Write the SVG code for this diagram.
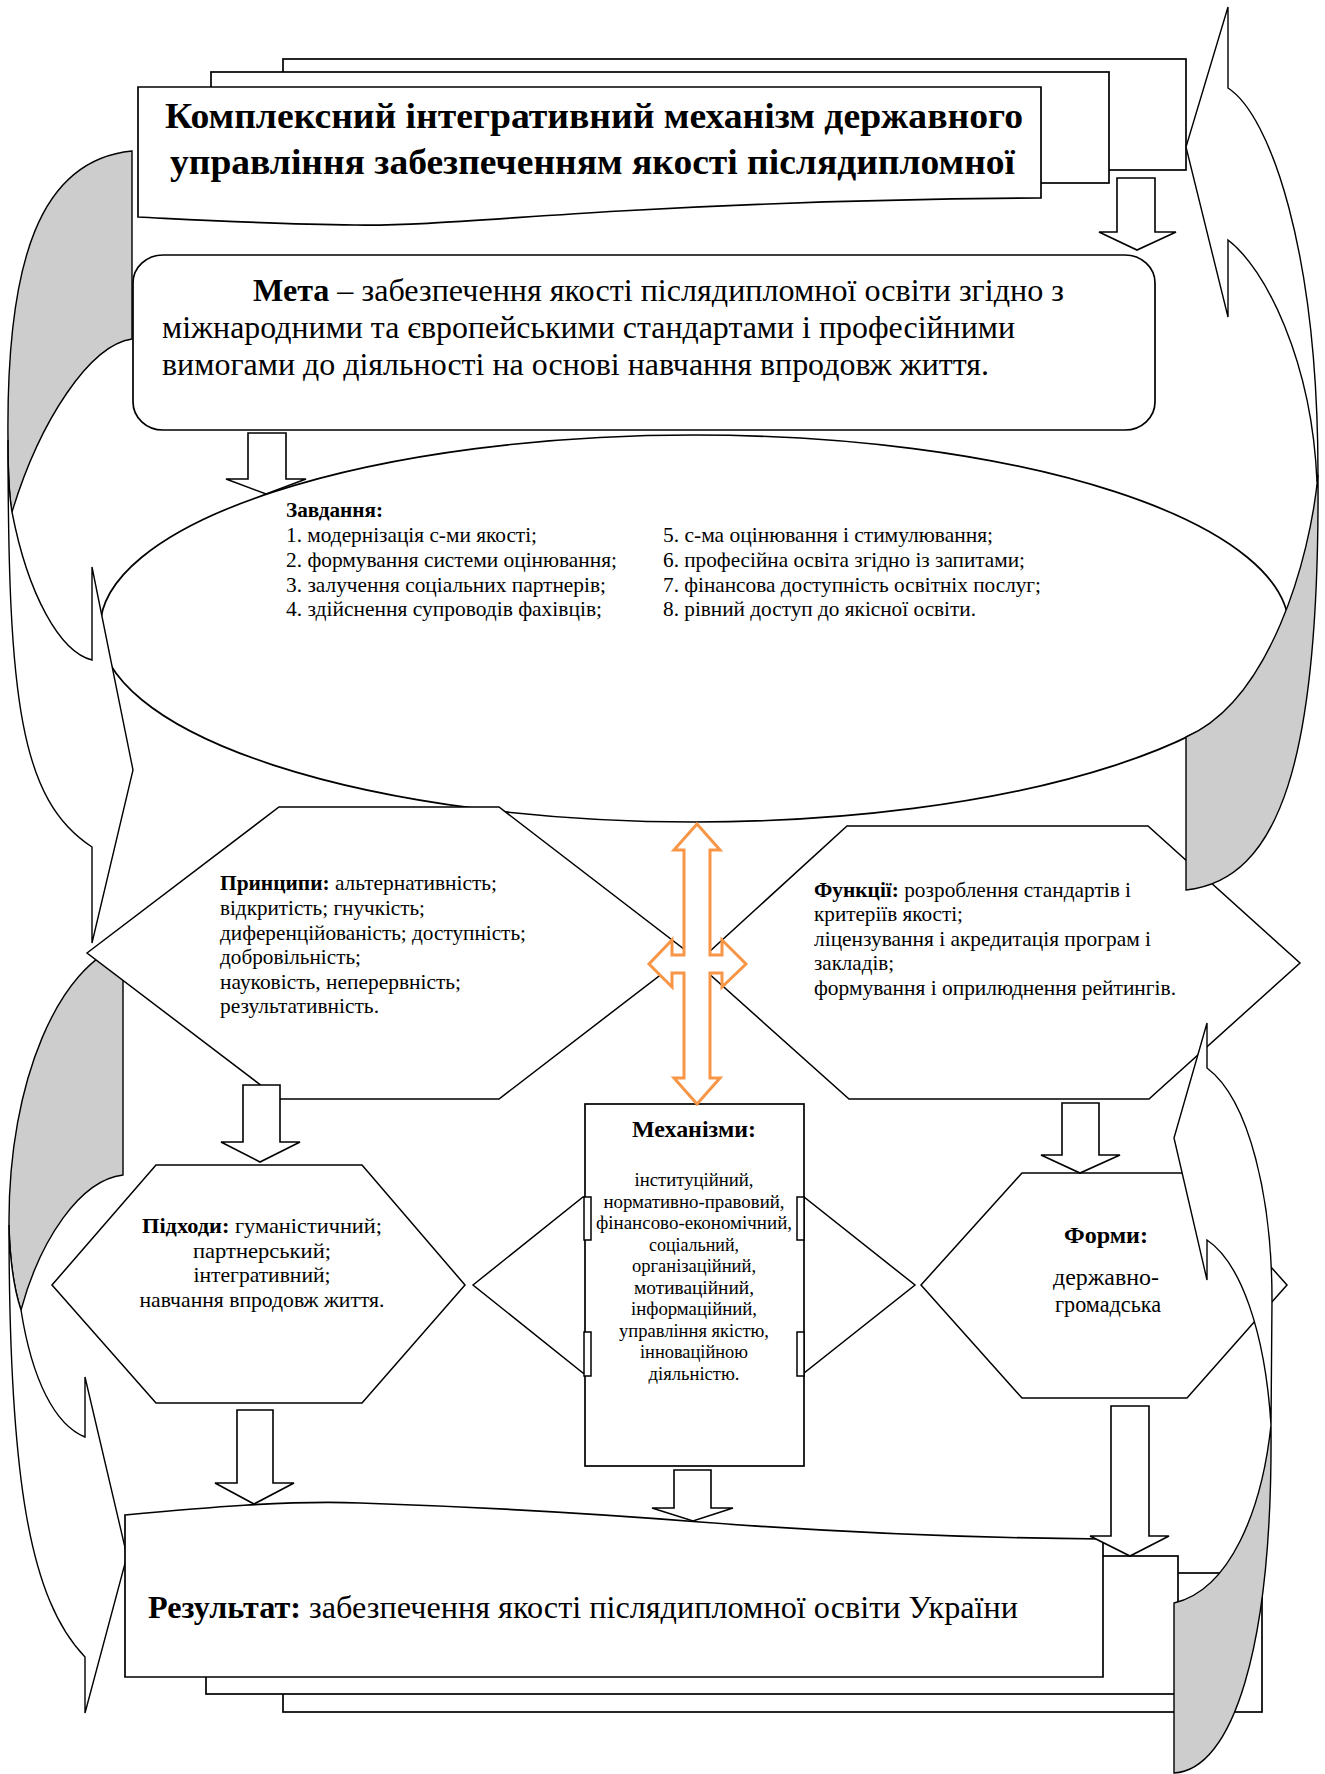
<svg xmlns="http://www.w3.org/2000/svg" width="1325" height="1774" viewBox="0 0 1325 1774">
<style>
.bx{fill:#fff;stroke:#000;stroke-width:1.7}
.hx{fill:#fff;stroke:#000;stroke-width:1.5}
.cw{fill:#fff;stroke:#000;stroke-width:1.4}
.cg{fill:#cdcdcd;stroke:#000;stroke-width:1.4}
.ar{fill:#fff;stroke:#000;stroke-width:1.6}
.or{fill:#fff;stroke:#F79646;stroke-width:3;stroke-linejoin:miter}
text{font-family:"Liberation Serif","Times New Roman",serif;fill:#000}
.b{font-weight:bold}
.t36{font-size:36px}
.t31{font-size:31.5px}
.t21{font-size:21.5px}
.t19{font-size:19px}
.t23{font-size:23.5px}
.m{text-anchor:middle}
</style>
<rect x="0" y="0" width="1325" height="1774" fill="#fff"/>

<g id="title">
<rect class="bx" x="283" y="59" width="903" height="111"/>
<rect class="bx" x="211" y="72" width="898" height="111"/>
<path class="bx" d="M138,87 L1041,87 L1041,198 C900,199 760,203 620,211 C500,218 420,226 355,225 C270,224 200,220 138,217 Z"/>
<text class="b t36" x="165" y="128" textLength="858" lengthAdjust="spacingAndGlyphs">Комплексний інтегративний механізм державного</text>
<text class="b t36" x="170" y="174" textLength="845" lengthAdjust="spacingAndGlyphs">управління забезпеченням якості післядипломної</text>
</g>

<g id="meta">
<rect class="bx" x="133" y="255" width="1022" height="175" rx="30" ry="28"/>
<text class="t31" x="253" y="301" textLength="811" lengthAdjust="spacingAndGlyphs"><tspan class="b">Мета</tspan> – забезпечення якості післядипломної освіти згідно з</text>
<text class="t31" x="162" y="338" textLength="853" lengthAdjust="spacingAndGlyphs">міжнародними та європейськими стандартами і професійними</text>
<text class="t31" x="162" y="375" textLength="827" lengthAdjust="spacingAndGlyphs">вимогами до діяльності на основі навчання впродовж життя.</text>
</g>

<g id="curved-left-lower">
<path class="cg" d="M123,945 C60,965 8,1080 9,1225 C10,1265 15,1292 21,1310 C40,1240 80,1180 123,1175 Z"/>
<path class="cw" d="M9,1225 C9,1480 30,1600 85,1657 L85,1713 L127,1556 L85,1377 L85,1437 C55,1425 32,1380 21,1310 C15,1292 10,1265 9,1225 Z"/>
</g>

<g id="tasks">
<ellipse class="bx" cx="694.5" cy="628.5" rx="594.5" ry="193.5"/>
<text class="b t21" x="286" y="517" textLength="97" lengthAdjust="spacingAndGlyphs">Завдання:</text>
<text class="t21" x="286" y="542" textLength="251" lengthAdjust="spacingAndGlyphs">1. модернізація с-ми якості;</text>
<text class="t21" x="286" y="567" textLength="331" lengthAdjust="spacingAndGlyphs">2. формування системи оцінювання;</text>
<text class="t21" x="286" y="591.5" textLength="320" lengthAdjust="spacingAndGlyphs">3. залучення соціальних партнерів;</text>
<text class="t21" x="286" y="616" textLength="316" lengthAdjust="spacingAndGlyphs">4. здійснення супроводів фахівців;</text>
<text class="t21" x="663" y="542" textLength="330" lengthAdjust="spacingAndGlyphs">5. с-ма оцінювання і стимулювання;</text>
<text class="t21" x="663" y="567" textLength="362" lengthAdjust="spacingAndGlyphs">6. професійна освіта згідно із запитами;</text>
<text class="t21" x="663" y="591.5" textLength="378" lengthAdjust="spacingAndGlyphs">7. фінансова доступність освітніх послуг;</text>
<text class="t21" x="663" y="616" textLength="313" lengthAdjust="spacingAndGlyphs">8. рівний доступ до якісної освіти.</text>
</g>

<g id="principles">
<polygon class="hx" points="87,953 279,807 499,807 689,953 499,1099 279,1099"/>
<text class="t21" x="220" y="890" textLength="277" lengthAdjust="spacingAndGlyphs"><tspan class="b">Принципи:</tspan> альтернативність;</text>
<text class="t21" x="220" y="915" textLength="205" lengthAdjust="spacingAndGlyphs">відкритість; гнучкість;</text>
<text class="t21" x="220" y="940" textLength="306" lengthAdjust="spacingAndGlyphs">диференційованість; доступність;</text>
<text class="t21" x="220" y="964" textLength="141" lengthAdjust="spacingAndGlyphs">добровільність;</text>
<text class="t21" x="220" y="989" textLength="241" lengthAdjust="spacingAndGlyphs">науковість, неперервність;</text>
<text class="t21" x="220" y="1013" textLength="159" lengthAdjust="spacingAndGlyphs">результативність.</text>
</g>

<g id="functions">
<polygon class="hx" points="697,963 847,826 1148,826 1300,963 1149,1099 849,1099"/>
<text class="t21" x="814" y="897" textLength="317" lengthAdjust="spacingAndGlyphs"><tspan class="b">Функції:</tspan> розроблення стандартів і</text>
<text class="t21" x="814" y="921" textLength="149" lengthAdjust="spacingAndGlyphs">критеріїв якості;</text>
<text class="t21" x="814" y="946" textLength="337" lengthAdjust="spacingAndGlyphs">ліцензування і акредитація програм і</text>
<text class="t21" x="814" y="970" textLength="80" lengthAdjust="spacingAndGlyphs">закладів;</text>
<text class="t21" x="814" y="995" textLength="362" lengthAdjust="spacingAndGlyphs">формування і оприлюднення рейтингів.</text>
</g>

<g id="approaches">
<polygon class="hx" points="52,1285 156,1165 362,1165 465,1285 362,1403 156,1403"/>
<text class="t21 m" x="262" y="1233" textLength="240" lengthAdjust="spacingAndGlyphs"><tspan class="b">Підходи:</tspan> гуманістичний;</text>
<text class="t21 m" x="262" y="1258" textLength="138" lengthAdjust="spacingAndGlyphs">партнерський;</text>
<text class="t21 m" x="262" y="1282" textLength="137" lengthAdjust="spacingAndGlyphs">інтегративний;</text>
<text class="t21 m" x="262" y="1307" textLength="245" lengthAdjust="spacingAndGlyphs">навчання впродовж життя.</text>
</g>

<g id="mechanisms">
<polygon class="hx" points="473,1285 583,1197 804,1197 915,1285 804,1373 583,1373"/>
<rect class="bx" x="585" y="1104" width="219" height="362"/>
<rect class="hx" x="584" y="1197" width="7" height="43"/>
<rect class="hx" x="584" y="1332" width="7" height="44"/>
<rect class="hx" x="797" y="1197" width="7" height="43"/>
<rect class="hx" x="797" y="1332" width="7" height="44"/>
<text class="b t23 m" x="694" y="1137" textLength="124" lengthAdjust="spacingAndGlyphs">Механізми:</text>
<text class="t19 m" x="694" y="1186" textLength="119" lengthAdjust="spacingAndGlyphs">інституційний,</text>
<text class="t19 m" x="694" y="1207.5" textLength="181" lengthAdjust="spacingAndGlyphs">нормативно-правовий,</text>
<text class="t19 m" x="694" y="1229" textLength="196" lengthAdjust="spacingAndGlyphs">фінансово-економічний,</text>
<text class="t19 m" x="694" y="1250.5" textLength="90" lengthAdjust="spacingAndGlyphs">соціальний,</text>
<text class="t19 m" x="694" y="1272" textLength="124" lengthAdjust="spacingAndGlyphs">організаційний,</text>
<text class="t19 m" x="694" y="1293.5" textLength="120" lengthAdjust="spacingAndGlyphs">мотиваційний,</text>
<text class="t19 m" x="694" y="1315" textLength="126" lengthAdjust="spacingAndGlyphs">інформаційний,</text>
<text class="t19 m" x="694" y="1336.5" textLength="150" lengthAdjust="spacingAndGlyphs">управління якістю,</text>
<text class="t19 m" x="694" y="1358" textLength="108" lengthAdjust="spacingAndGlyphs">інноваційною</text>
<text class="t19 m" x="694" y="1379.5" textLength="91" lengthAdjust="spacingAndGlyphs">діяльністю.</text>
</g>

<g id="forms">
<polygon class="hx" points="921,1285 1022,1173 1187,1173 1287,1285 1187,1398 1022,1398"/>
<text class="b t23 m" x="1106" y="1243" textLength="84" lengthAdjust="spacingAndGlyphs">Форми:</text>
<text class="t23 m" x="1106" y="1285" textLength="106" lengthAdjust="spacingAndGlyphs">державно-</text>
<text class="t23 m" x="1108" y="1312" textLength="106" lengthAdjust="spacingAndGlyphs">громадська</text>
</g>

<g id="result">
<rect class="bx" x="283" y="1573" width="979" height="139"/>
<rect class="bx" x="206" y="1556" width="972" height="138"/>
<path class="bx" d="M125,1515 C200,1508 290,1500 360,1503 C480,1507 600,1514 700,1522 C830,1532 960,1538 1103,1539 L1103,1677 L125,1677 Z"/>
<text class="t31" x="148" y="1618" textLength="870" lengthAdjust="spacingAndGlyphs"><tspan class="b">Результат:</tspan> забезпечення якості післядипломної освіти України</text>
</g>

<g id="curved-arrows">
<g id="curved-left-upper">
<path class="cg" d="M132,151 C40,160 6,260 8,440 C8,470 9,495 12,512 C40,420 90,345 132,339 Z"/>
<path class="cw" d="M8,440 C8,700 20,800 92,847 L92,943 L133,770 L92,567 L92,660 C60,652 28,595 12,512 C9,495 8,470 8,440 Z"/>
</g>
<g id="curved-right-upper">
<path class="cg" d="M1186,737 L1186,890 C1280,880 1320,760 1318,475 C1310,560 1270,700 1186,737 Z"/>
<path class="cw" d="M1228,88 L1228,7 L1186,147 L1228,317 L1228,240 C1265,268 1312,360 1317,482 L1318,475 C1318,250 1270,115 1228,88 Z"/>
</g>
<g id="curved-right-lower">
<path class="cg" d="M1174,1603 L1174,1773 C1232,1770 1273,1650 1271,1425 C1262,1510 1230,1590 1174,1603 Z"/>
<path class="cw" d="M1207,1068 L1207,1023 L1174,1138 L1207,1280 L1207,1240 C1240,1262 1265,1330 1271,1425 L1272,1300 C1272,1200 1250,1100 1207,1068 Z"/>
</g>
</g>

<g id="connectors">
<polygon class="ar" points="1117,178 1155,178 1155,232 1176,232 1137,250 1099,232 1117,232"/>
<polygon class="ar" points="248,433 286,433 286,479 306,479 266,494 226,479 248,479"/>
<polygon class="ar" points="243,1085 280,1085 280,1142 300,1142 260,1162 221,1142 243,1142"/>
<polygon class="ar" points="1062,1103 1099,1103 1099,1155 1120,1155 1080,1173 1041,1155 1062,1155"/>
<polygon class="ar" points="237,1410 273,1410 273,1483 294,1483 254,1504 215,1483 237,1483"/>
<polygon class="ar" points="674,1470 711,1470 711,1508 733,1508 693,1521 652,1508 674,1508"/>
<polygon class="ar" points="1111,1406 1149,1406 1149,1536 1169,1536 1130,1556 1090,1536 1111,1536"/>
<path class="or" d="M697,824 L720,850 L710,850 L710,955 L722,955 L722,940 L746,964 L722,987 L722,973 L710,973 L710,1078 L720,1078 L697,1104 L674,1078 L684,1078 L684,973 L672,973 L672,987 L649,964 L672,940 L672,955 L684,955 L684,850 L674,850 Z"/>
</g>
</svg>
